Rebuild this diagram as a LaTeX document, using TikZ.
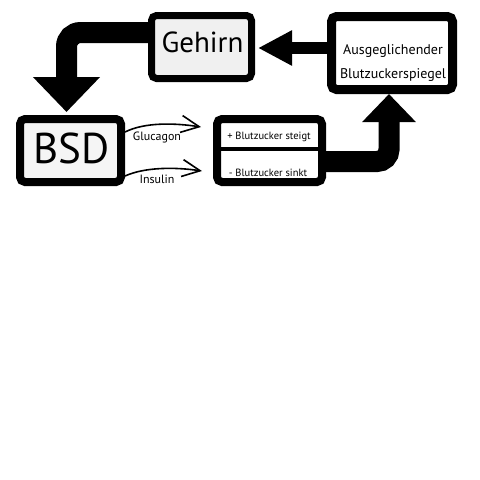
\documentclass[tikz,border=0pt]{standalone}
\usepackage{fontspec}
\setmainfont{PT Sans}
\usetikzlibrary{arrows.meta,calc}
\begin{document}
\begin{tikzpicture}[x=1pt,y=-1pt,
  box/.style={draw=black, rounded corners=5pt, inner sep=0pt},
  lbl/.style={anchor=base, inner sep=0pt},
  fatarrow/.style={line width=#1, draw=black},
  thinarrow/.style={line width=1.6pt, -{Straight Barb[length=18pt,width=17pt]}}]
\useasboundingbox (0,0) rectangle (480,480);
\fill[white] (0,0) rectangle (480,480);

% boxes
\node[box, line width=7pt, fill=black!6, minimum width=100pt, minimum height=63pt] (gehirn) at (201.5,47) {};
\node[box, line width=9pt, fill=white, minimum width=121pt, minimum height=73pt] (aus) at (392,53) {};
\node[box, line width=8pt, fill=black!4, minimum width=101pt, minimum height=63pt] (bsd) at (70.5,150.5) {};
\node[box, line width=8pt, fill=white, minimum width=105pt, minimum height=63pt] (bz) at (269.5,150.5) {};
\coordinate (divy) at (0,149);
\draw[line width=4pt] (bz.west |- divy) -- (bz.east |- divy);

% texts
\node[lbl, font=\fontsize{29}{29}\selectfont] (gehirntext) at (202.5,52) {Gehirn};
\node[lbl, font=\fontsize{43}{43}\selectfont] (bsdtext) at (71.5,163.5) {BSD};
\node[lbl, font=\fontsize{14}{14}\selectfont] (austext1) at (393,54) {Ausgeglichender};
\node[lbl, font=\fontsize{14}{14}\selectfont] (austext2) at (393,78) {Blutzuckerspiegel};
\node[lbl, font=\fontsize{10.5}{10.5}\selectfont] (bzup) at (269,139) {+ Blutzucker steigt};
\node[lbl, font=\fontsize{10.5}{10.5}\selectfont] (bzdown) at (268,176) {- Blutzucker sinkt};
\node[lbl, font=\fontsize{12}{12}\selectfont] (glutext) at (157,140.5) {Glucagon};
\node[lbl, font=\fontsize{12}{12}\selectfont] (instext) at (157,183) {Insulin};

% fat arrows
\coordinate (y1) at (0,32.5);
\draw[fatarrow=21pt, rounded corners=14pt, shorten >=3pt, -{Triangle[length=35pt,width=65pt]}]
  (gehirn.west |- y1) -| ($(bsd.north)+(-4,0)$);
\coordinate (y2) at (0,48);
\draw[fatarrow=12pt, shorten >=3pt, -{Triangle[length=34pt,width=33pt]}]
  (aus.west |- y2) -- (gehirn.east |- y2);
\coordinate (y3) at (0,161.5);
\draw[fatarrow=21pt, rounded corners=12pt, -{Triangle[length=28pt,width=52pt]}]
  (bz.east |- y3) -| ($(aus.south)+(-3,0)$);

% thin arrows
\coordinate (gend) at (201,127);
\coordinate (iend) at (202,171);
\coordinate (gy) at (0,132);
\coordinate (iy) at (0,176);
\draw[thinarrow] (bsd.east |- gy) .. controls (145,122) and (175,123) .. (gend);
\draw[thinarrow] (bsd.east |- iy) .. controls (145,167) and (175,167) .. (iend);
\end{tikzpicture}
\end{document}
